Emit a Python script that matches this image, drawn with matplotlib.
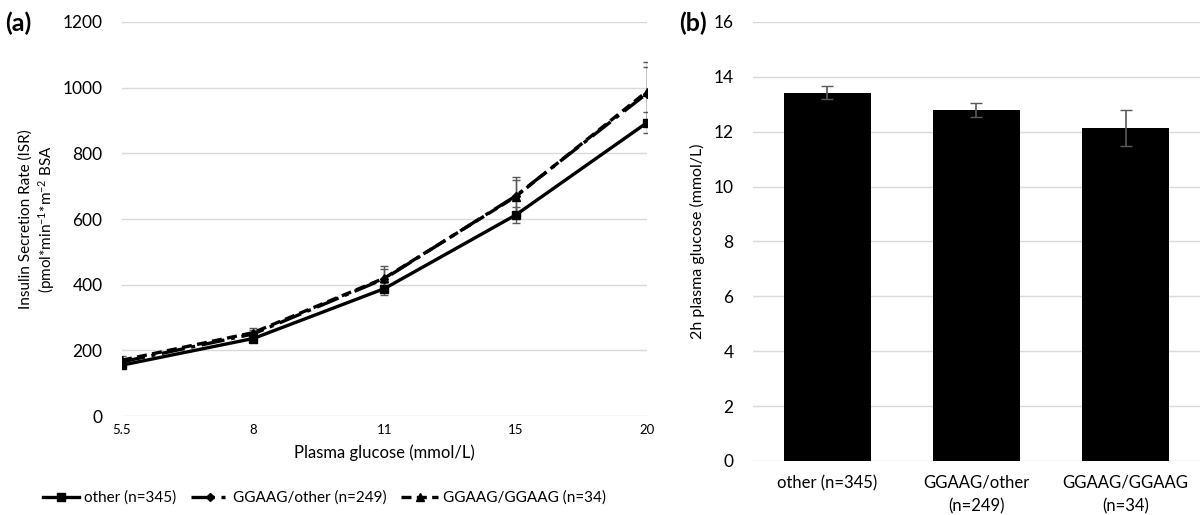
import numpy as np
import matplotlib
matplotlib.use("Agg")
import matplotlib.pyplot as plt
from matplotlib.lines import Line2D

plt.rcParams['font.family'] = ['Lato', 'DejaVu Sans']
plt.rcParams['mathtext.fontset'] = 'custom'
plt.rcParams['mathtext.rm'] = 'Lato'
plt.rcParams['mathtext.it'] = 'Lato:italic'

# panel (a): insulin secretion rate vs plasma glucose
glucose = ['5.5', '8', '11', '15', '20']
isr_other = [155, 236, 388, 612, 893]
isr_other_err = [8, 10, 18, 24, 32]
isr_het = [165, 250, 418, 670, 982]
isr_het_err = [10, 12, 30, 50, 80]
isr_hom = [170, 254, 420, 668, 988]
isr_hom_err = [12, 14, 36, 60, 90]

# panel (b): 2h plasma glucose
groups = ['other (n=345)', 'GGAAG/other\n(n=249)', 'GGAAG/GGAAG\n(n=34)']
glc_2h = [13.42, 12.78, 12.13]
glc_2h_err = [0.23, 0.26, 0.66]

GRID = '#d9d9d9'
ERR = '#595959'
HET_DASH = (7, 2, 1.2, 2)
HOM_DASH = (3, 1.6)

fig = plt.figure(figsize=(12, 5.15), dpi=100)
ax1 = fig.add_axes([0.1017, 0.1922, 0.4373, 0.7651])
ax2 = fig.add_axes([0.6275, 0.1049, 0.3725, 0.8524])

x = np.arange(len(glucose))
ax1.errorbar(x, isr_other, yerr=isr_other_err, color='black', lw=2.4,
             marker='s', ms=6, ecolor=ERR, elinewidth=1, capsize=3, zorder=3)
ax1.errorbar(x, isr_het, yerr=isr_het_err, color='black', lw=2.4,
             marker='D', ms=4.5, dashes=HET_DASH, ecolor=ERR,
             elinewidth=1, capsize=3, zorder=3)
ax1.errorbar(x, isr_hom, yerr=isr_hom_err, color='black', lw=2.4,
             marker='^', ms=6, dashes=HOM_DASH, ecolor=ERR,
             elinewidth=1, capsize=3, zorder=3)

ax1.set_xlim(0, len(glucose) - 1)
ax1.set_ylim(0, 1200)
ax1.set_yticks(np.arange(0, 1201, 200))
ax1.set_xticks(x)
ax1.set_xticklabels(glucose, fontsize=9.5)
ax1.tick_params(axis='y', labelsize=12.5, length=0, pad=14)
ax1.tick_params(axis='x', length=0, pad=6)
ax1.grid(axis='y', color=GRID, lw=1)
ax1.set_axisbelow(True)
for s in ax1.spines.values():
    s.set_visible(False)
ax1.set_xlabel('Plasma glucose (mmol/L)', fontsize=12, labelpad=6)
ax1.set_ylabel('Insulin Secretion Rate (ISR)\n(pmol*min$^{-1}$*m$^{-2}$ BSA',
               fontsize=11, labelpad=4)
fig.text(0.004, 0.955, '(a)', fontsize=18, fontweight='bold', va='center')

xb = np.arange(len(groups))
ax2.bar(xb, glc_2h, width=0.58, color='black', zorder=2)
ax2.errorbar(xb, glc_2h, yerr=glc_2h_err, fmt='none', ecolor=ERR,
             elinewidth=1.2, capsize=4, zorder=3)
ax2.set_xlim(-0.5, len(groups) - 0.5)
ax2.set_ylim(0, 16)
ax2.set_yticks(np.arange(0, 17, 2))
ax2.set_xticks(xb)
ax2.set_xticklabels(groups, fontsize=12, linespacing=1.55)
ax2.tick_params(axis='y', labelsize=12.5, length=0, pad=14)
ax2.tick_params(axis='x', length=0, pad=10)
ax2.grid(axis='y', color=GRID, lw=1)
ax2.set_axisbelow(True)
for s in ax2.spines.values():
    s.set_visible(False)
ax2.set_ylabel('2h plasma glucose (mmol/L)', fontsize=11.5, labelpad=6)
fig.text(0.566, 0.955, '(b)', fontsize=18, fontweight='bold', va='center')

handles = [
    Line2D([], [], color='black', lw=2.4, marker='s', ms=6),
    Line2D([], [], color='black', lw=2.4, marker='D', ms=4.5, dashes=HET_DASH),
    Line2D([], [], color='black', lw=2.4, marker='^', ms=6, dashes=HOM_DASH),
]
labels = ['other (n=345)', 'GGAAG/other (n=249)', 'GGAAG/GGAAG (n=34)']
fig.legend(handles=handles, labels=labels, loc='center left',
           bbox_to_anchor=(0.024, 0.033), ncol=3, frameon=False, fontsize=11,
           handlelength=2.4, handletextpad=0.3, columnspacing=1.0)

fig.savefig('out.png', dpi=100)
